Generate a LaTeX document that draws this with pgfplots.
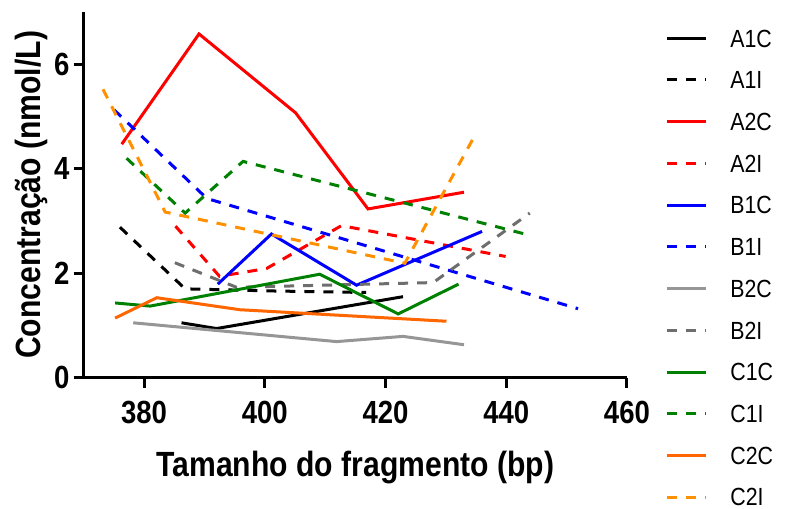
\documentclass[border=0pt]{standalone}
\usepackage{fontspec}
\setmainfont{Liberation Sans}[FakeStretch=0.86]
\usepackage{pgfplots}
\pgfplotsset{compat=1.18}
\definecolor{cA1}{RGB}{0,0,0}
\definecolor{cA2}{RGB}{255,0,0}
\definecolor{cB1}{RGB}{0,0,255}
\definecolor{cB2C}{RGB}{150,150,150}
\definecolor{cB2I}{RGB}{110,110,110}
\definecolor{cC1}{RGB}{0,128,0}
\definecolor{cC2C}{RGB}{255,102,0}
\definecolor{cC2I}{RGB}{255,145,0}
\tikzset{dsh/.style={dash pattern=on 5pt off 4.5pt}}
\begin{document}
\begin{tikzpicture}
\useasboundingbox (-41.85pt,-65.25pt) rectangle (351pt,188.75pt);
\begin{axis}[
  at={(0,0)}, anchor=south west,
  scale only axis, width=271.5pt, height=182.75pt,
  xmin=370, xmax=460, ymin=0, ymax=7,
  axis x line*=bottom, axis y line*=left,
  axis line style={line width=1.5pt, black},
  xtick={380,400,...,460}, ytick={0,2,4,6},
  minor tick num=0,
  tick align=outside, major tick length=5pt,
  every tick/.style={line width=1.5pt, black},
  /pgf/number format/assume math mode=true,
  /pgf/number format/1000 sep={},
  tick label style={font=\bfseries\fontsize{16}{16}\selectfont, inner sep=0pt},
  xticklabel shift=6.5pt,
  yticklabel shift=2pt,
  xlabel={Tamanho do fragmento (bp)},
  ylabel={Concentração (nmol/L)},
  every axis x label/.style={at={(axis description cs:0.5,-0.2695)}, anchor=base, inner sep=0pt, font=\bfseries\fontsize{17.5}{17.5}\selectfont},
  every axis y label/.style={at={(axis description cs:-0.0805,0.5)}, rotate=90, anchor=base, inner sep=0pt, font=\bfseries\fontsize{17.5}{17.5}\selectfont},
  every axis plot/.append style={line width=1.5pt},
  legend style={at={(1,1)}, anchor=north west, xshift=19.35pt, yshift=-2.7pt,
    draw=none, fill=none, inner sep=0pt, outer sep=0pt, row sep=0pt, column sep=11.65pt,
    font=\fontsize{12.4}{12.4}\selectfont,
    nodes={inner sep=0pt, text height=14.8pt, text depth=6.05pt}},
  legend cell align=left,
  legend image code/.code={\tikzset{dsh/.style={dash pattern=on 3.9pt off 2.3pt}}\draw[#1] (0pt,0pt) -- (19.2pt,0pt);},
]
\addplot[cA1, mark=none] coordinates {(386.2,1.05) (392.0,0.94) (422.9,1.55)};
\addlegendentry{A1C}
\addplot[cA1, dsh, mark=none] coordinates {(376.0,2.88) (386.8,1.70) (401.0,1.66) (416.8,1.63)};
\addlegendentry{A1I}
\addplot[cA2, mark=none] coordinates {(376.3,4.47) (389.1,6.58) (405.1,5.07) (417.1,3.23) (433.0,3.55)};
\addlegendentry{A2C}
\addplot[cA2, dsh, mark=none] coordinates {(385.2,2.90) (392.5,1.94) (400.3,2.09) (412.7,2.91) (439.9,2.32)};
\addlegendentry{A2I}
\addplot[cB1, mark=none] coordinates {(392.2,1.79) (401.1,2.75) (415.2,1.77) (436.0,2.80)};
\addlegendentry{B1C}
\addplot[cB1, dsh, mark=none] coordinates {(375.0,5.13) (390.4,3.43) (451.9,1.32)};
\addlegendentry{B1I}
\addplot[cB2C, mark=none] coordinates {(378.2,1.05) (411.9,0.69) (422.9,0.79) (433.0,0.63)};
\addlegendentry{B2C}
\addplot[cB2I, dsh, mark=none] coordinates {(385.1,2.20) (395.3,1.73) (427.9,1.82) (443.9,3.15)};
\addlegendentry{B2I}
\addplot[cC1, mark=none] coordinates {(375.2,1.43) (381.0,1.37) (409.1,1.98) (422.1,1.22) (432.1,1.79)};
\addlegendentry{C1C}
\addplot[cC1, dsh, mark=none] coordinates {(377.1,4.20) (386.8,3.15) (396.4,4.14) (444.1,2.72)};
\addlegendentry{C1I}
\addplot[cC2C, mark=none] coordinates {(375.2,1.14) (382.1,1.53) (395.9,1.30) (430.1,1.08)};
\addlegendentry{C2C}
\addplot[cC2I, dsh, mark=none] coordinates {(373.2,5.52) (383.5,3.17) (423.2,2.19) (435.1,4.70)};
\addlegendentry{C2I}
\end{axis}
\end{tikzpicture}
\end{document}
